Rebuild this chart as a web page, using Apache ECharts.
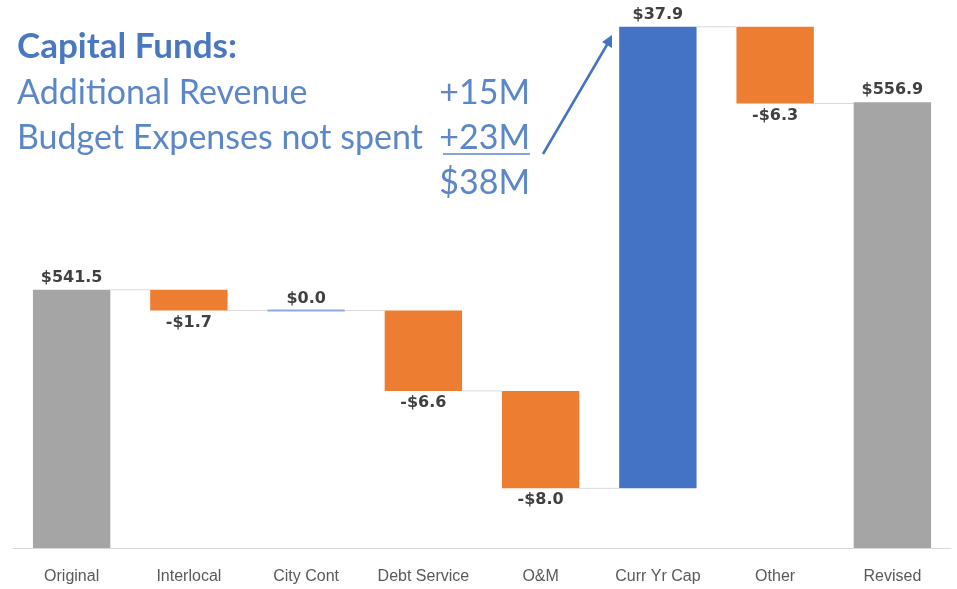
<!DOCTYPE html>
<html>
<head>
<meta charset="utf-8">
<script src="https://cdn.jsdelivr.net/npm/echarts@6/dist/echarts.min.js"></script>
<style>
  html, body { margin: 0; padding: 0; background: #fff; }
  #chart { width: 957px; height: 589px; }
</style>
</head>
<body>
<div id="chart"></div>
<script>
// Budget bridge: original to revised ($M)
const categories = ['Original', 'Interlocal', 'City Cont', 'Debt Service', 'O&M', 'Curr Yr Cap', 'Other', 'Revised'];
const values = [541.5, -1.7, 0.0, -6.6, -8.0, 37.9, -6.3, 556.9];
const isTotal = [true, false, false, false, false, false, false, true];
const valueLabels = ['$541.5', '-$1.7', '$0.0', '-$6.6', '-$8.0', '$37.9', '-$6.3', '$556.9'];

const Y_MIN = 520.3;
const Y_MAX = 565.3;

const GRAY = '#A5A5A5';
const ORANGE = '#ED7D31';
const BLUE = '#4472C4';
const ZERO_LINE = '#8FAADC';

// Build [index, start, end, change] rows for the waterfall
const rows = [];
let level = 0;
values.forEach((v, i) => {
  let start, end;
  if (isTotal[i]) {
    start = Y_MIN;
    end = v;
    level = v;
  } else {
    start = level;
    end = level + v;
    level = end;
  }
  rows.push([i, start, end, v]);
});

function colorFor(i, v) {
  if (isTotal[i]) return GRAY;
  if (v > 0) return BLUE;
  if (v < 0) return ORANGE;
  return ZERO_LINE;
}

function renderItem(params, api) {
  const i = api.value(0);
  const start = api.value(1);
  const end = api.value(2);
  const v = api.value(3);
  const band = api.size([1, 0])[0];
  const w = band * 0.66;
  const pStart = api.coord([i, start]);
  const pEnd = api.coord([i, end]);
  const x0 = pStart[0] - w / 2;
  const yTop = Math.min(pStart[1], pEnd[1]);
  const yBot = Math.max(pStart[1], pEnd[1]);
  const children = [];

  if (v === 0 && !isTotal[i]) {
    children.push({
      type: 'line',
      shape: { x1: x0, y1: pEnd[1], x2: x0 + w, y2: pEnd[1] },
      style: { stroke: ZERO_LINE, lineWidth: 2 }
    });
  } else {
    children.push({
      type: 'rect',
      shape: { x: x0, y: yTop, width: w, height: yBot - yTop },
      style: { fill: colorFor(i, v) }
    });
  }

  // connector to the next bar
  if (i < categories.length - 1) {
    children.push({
      type: 'line',
      shape: { x1: x0 + w, y1: pEnd[1], x2: x0 + band, y2: pEnd[1] },
      style: { stroke: '#D9D9D9', lineWidth: 1 }
    });
  }

  // value label
  const below = v < 0;
  children.push({
    type: 'text',
    style: {
      x: pStart[0],
      y: below ? yBot + 4 : yTop - 4,
      text: valueLabels[i],
      align: 'center',
      verticalAlign: below ? 'top' : 'bottom',
      fill: '#404040',
      font: 'bold 16px "DejaVu Sans", Arial, sans-serif'
    }
  });

  return { type: 'group', children };
}

const chart = echarts.init(document.getElementById('chart'));

const noteColor = '#5B87C9';
const noteFont = '34px Lato, "Open Sans", sans-serif';

chart.setOption({
  animation: false,
  grid: { left: 13, right: 6, top: 0, bottom: 41 },
  xAxis: {
    type: 'category',
    data: categories,
    axisTick: { show: false },
    axisLine: { lineStyle: { color: '#D9D9D9', width: 1 } },
    axisLabel: {
      interval: 0,
      color: '#595959',
      fontSize: 16,
      fontFamily: '"Liberation Sans", Arial, sans-serif',
      margin: 21
    }
  },
  yAxis: {
    type: 'value',
    min: Y_MIN,
    max: Y_MAX,
    show: false,
    splitLine: { show: false }
  },
  series: [{
    type: 'custom',
    renderItem,
    clip: false,
    data: rows
  }],
  graphic: [
    { type: 'text', left: 17, top: 29, style: { text: 'Capital Funds:', font: 'bold 35px Lato, "Open Sans", sans-serif', fill: '#4A78C0' } },
    { type: 'text', left: 17, top: 76, style: { text: 'Additional Revenue', font: noteFont, fill: noteColor } },
    { type: 'text', left: 17, top: 121, style: { text: 'Budget Expenses not spent', font: noteFont, fill: noteColor } },
    { type: 'text', right: 427, top: 76, style: { text: '+15M', font: noteFont, fill: noteColor } },
    { type: 'text', right: 427, top: 121, style: { text: '+23M', font: noteFont, fill: noteColor } },
    { type: 'text', right: 427, top: 166, style: { text: '$38M', font: noteFont, fill: noteColor } },
    { type: 'line', shape: { x1: 443, y1: 154, x2: 530, y2: 154 }, style: { stroke: noteColor, lineWidth: 1.5 } },
    { type: 'line', shape: { x1: 543, y1: 154, x2: 608, y2: 43 }, style: { stroke: BLUE, lineWidth: 2.5 } },
    { type: 'polygon', shape: { points: [[612, 35], [612, 48], [602, 42]] }, style: { fill: BLUE } }
  ]
});
</script>
</body>
</html>
